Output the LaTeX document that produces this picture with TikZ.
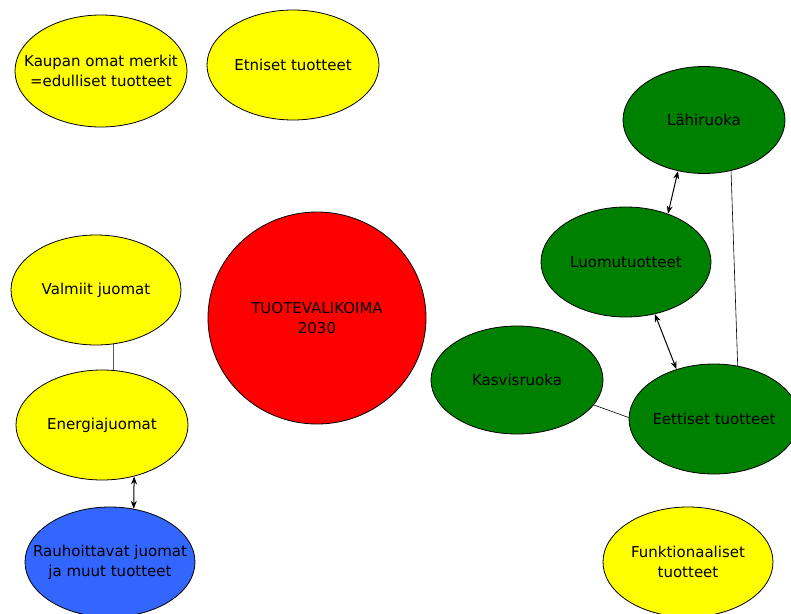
\documentclass[tikz,border=0pt]{standalone}
\usepackage{fontspec}
\setmainfont{DejaVu Sans}
\usetikzlibrary{shapes.geometric,arrows.meta}
\definecolor{keltainen}{RGB}{255,255,0}
\definecolor{vihrea}{RGB}{0,128,0}
\definecolor{sininen}{RGB}{51,102,255}
\definecolor{punainen}{RGB}{255,0,0}
\begin{document}
\begin{tikzpicture}[x=1pt,y=-1pt,line join=round,>={Stealth[length=8pt,width=6pt]},
	kupla/.style={ellipse,draw,line width=0.8pt,minimum width=170pt,minimum height=110pt,inner sep=-30pt,
		align=center,font=\fontsize{15}{20}\selectfont},
	kelta/.style={kupla,fill=keltainen},
	vihr/.style={kupla,fill=vihrea},
	viiva/.style={line width=0.6pt},
	nuoli/.style={<->,line width=1pt}]
	\useasboundingbox (0,0) rectangle (791,613);
	\node[kelta,minimum width=172pt,minimum height=112pt] (kaupan) at (101,71) {Kaupan omat merkit\\=edulliset tuotteet};
	\node[kelta,minimum width=172pt] (etniset) at (293,65) {Etniset tuotteet};
	\node[kelta] (valmiit) at (96,290) {Valmiit juomat};
	\node[kelta,minimum width=172pt] (energia) at (102,425) {Energiajuomat};
	\node[kupla,fill=sininen] (rauhoittavat) at (110,562) {Rauhoittavat juomat\\ja muut tuotteet};
	\node[kupla,fill=punainen,minimum width=218pt,minimum height=212pt] (tuote) at (317,318) {TUOTEVALIKOIMA\\2030};
	\node[vihr,minimum width=162pt,minimum height=107pt] (lahi) at (704,120) {Lähiruoka};
	\node[vihr] (luomu) at (626,262) {Luomutuotteet};
	\node[vihr,minimum width=172pt,minimum height=108pt] (kasvis) at (517,380) {Kasvisruoka};
	\node[vihr] (eettiset) at (714,419) {Eettiset tuotteet};
	\node[kelta] (funktio) at (688,562) {Funktionaaliset\\tuotteet};
	% yhteydet
	\draw[viiva] (valmiit.-72.5) -- (energia.78.6);
	\draw[nuoli] (energia.-58.9) -- (rauhoittavat.66.5);
	\draw[nuoli] (lahi.-117) -- (luomu.49);
	\draw[nuoli] (luomu.-61) -- (eettiset.127);
	\draw[viiva] (lahi.-62) -- (eettiset.66);
	\draw[viiva] (kasvis.-18) -- (eettiset.179);
\end{tikzpicture}
\end{document}
